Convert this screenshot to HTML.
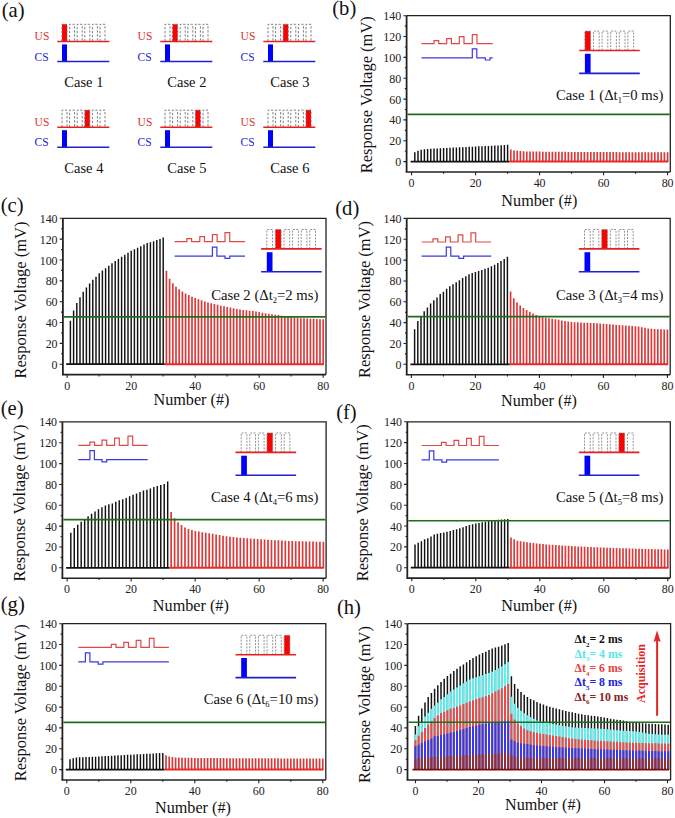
<!DOCTYPE html><html><head><meta charset="utf-8"><style>html,body{margin:0;padding:0;background:#fff;}svg{display:block;}</style></head><body><svg width="675" height="818" viewBox="0 0 675 818" font-family='"Liberation Serif", serif'>
<style>text{stroke-width:0.0px;stroke-linejoin:round}</style>
<rect width="675" height="818" fill="#fff"/>
<text x="1.65" y="16.9" font-size="20.6" fill="#111" stroke="#111">(a)</text>
<text x="332.25" y="15.2" font-size="20.6" fill="#111" stroke="#111">(b)</text>
<text x="0.75" y="211.6" font-size="20.6" fill="#111" stroke="#111">(c)</text>
<text x="335.25" y="214.9" font-size="20.6" fill="#111" stroke="#111">(d)</text>
<text x="0.75" y="414.6" font-size="20.6" fill="#111" stroke="#111">(e)</text>
<text x="336.15" y="418.7" font-size="20.6" fill="#111" stroke="#111">(f)</text>
<text x="0.75" y="611.4" font-size="20.6" fill="#111" stroke="#111">(g)</text>
<text x="336.95" y="614.3" font-size="20.6" fill="#111" stroke="#111">(h)</text>
<text x="34.60" y="39.80" font-size="11.5" fill="#e03030" stroke="#e03030">US</text>
<text x="34.60" y="60.60" font-size="11.5" fill="#2424d8" stroke="#2424d8">CS</text>
<rect x="62.00" y="24.30" width="5.00" height="17.10" fill="#f00"/>
<path d="M62.00 41.40V24.30H67.00V41.40M69.60 41.40V24.30H74.60V41.40M77.20 41.40V24.30H82.20V41.40M84.80 41.40V24.30H89.80V41.40M92.40 41.40V24.30H97.40V41.40M100.00 41.40V24.30H105.00V41.40" stroke="#6a6a6a" stroke-width="0.85" stroke-dasharray="2.4 1.6" fill="none"/>
<path d="M57.30 41.40H109.30" stroke="#e52222" stroke-width="1.5"/>
<rect x="62.00" y="44.40" width="5.00" height="17.00" fill="#00f"/>
<path d="M57.30 61.40H109.30" stroke="#2020d0" stroke-width="1.5"/>
<text x="83.90" y="87.30" text-anchor="middle" font-size="14.5" fill="#111" stroke="#111">Case 1</text>
<text x="137.60" y="39.80" font-size="11.5" fill="#e03030" stroke="#e03030">US</text>
<text x="137.60" y="60.60" font-size="11.5" fill="#2424d8" stroke="#2424d8">CS</text>
<rect x="172.60" y="24.30" width="5.00" height="17.10" fill="#f00"/>
<path d="M165.00 41.40V24.30H170.00V41.40M172.60 41.40V24.30H177.60V41.40M180.20 41.40V24.30H185.20V41.40M187.80 41.40V24.30H192.80V41.40M195.40 41.40V24.30H200.40V41.40M203.00 41.40V24.30H208.00V41.40" stroke="#6a6a6a" stroke-width="0.85" stroke-dasharray="2.4 1.6" fill="none"/>
<path d="M160.30 41.40H212.30" stroke="#e52222" stroke-width="1.5"/>
<rect x="165.00" y="44.40" width="5.00" height="17.00" fill="#00f"/>
<path d="M160.30 61.40H212.30" stroke="#2020d0" stroke-width="1.5"/>
<text x="186.90" y="87.30" text-anchor="middle" font-size="14.5" fill="#111" stroke="#111">Case 2</text>
<text x="240.60" y="39.80" font-size="11.5" fill="#e03030" stroke="#e03030">US</text>
<text x="240.60" y="60.60" font-size="11.5" fill="#2424d8" stroke="#2424d8">CS</text>
<rect x="283.20" y="24.30" width="5.00" height="17.10" fill="#f00"/>
<path d="M268.00 41.40V24.30H273.00V41.40M275.60 41.40V24.30H280.60V41.40M283.20 41.40V24.30H288.20V41.40M290.80 41.40V24.30H295.80V41.40M298.40 41.40V24.30H303.40V41.40M306.00 41.40V24.30H311.00V41.40" stroke="#6a6a6a" stroke-width="0.85" stroke-dasharray="2.4 1.6" fill="none"/>
<path d="M263.30 41.40H315.30" stroke="#e52222" stroke-width="1.5"/>
<rect x="268.00" y="44.40" width="5.00" height="17.00" fill="#00f"/>
<path d="M263.30 61.40H315.30" stroke="#2020d0" stroke-width="1.5"/>
<text x="289.90" y="87.30" text-anchor="middle" font-size="14.5" fill="#111" stroke="#111">Case 3</text>
<text x="34.60" y="125.60" font-size="11.5" fill="#e03030" stroke="#e03030">US</text>
<text x="34.60" y="146.40" font-size="11.5" fill="#2424d8" stroke="#2424d8">CS</text>
<rect x="84.80" y="110.10" width="5.00" height="17.10" fill="#f00"/>
<path d="M62.00 127.20V110.10H67.00V127.20M69.60 127.20V110.10H74.60V127.20M77.20 127.20V110.10H82.20V127.20M84.80 127.20V110.10H89.80V127.20M92.40 127.20V110.10H97.40V127.20M100.00 127.20V110.10H105.00V127.20" stroke="#6a6a6a" stroke-width="0.85" stroke-dasharray="2.4 1.6" fill="none"/>
<path d="M57.30 127.20H109.30" stroke="#e52222" stroke-width="1.5"/>
<rect x="62.00" y="130.20" width="5.00" height="17.00" fill="#00f"/>
<path d="M57.30 147.20H109.30" stroke="#2020d0" stroke-width="1.5"/>
<text x="83.90" y="173.10" text-anchor="middle" font-size="14.5" fill="#111" stroke="#111">Case 4</text>
<text x="137.60" y="125.60" font-size="11.5" fill="#e03030" stroke="#e03030">US</text>
<text x="137.60" y="146.40" font-size="11.5" fill="#2424d8" stroke="#2424d8">CS</text>
<rect x="195.40" y="110.10" width="5.00" height="17.10" fill="#f00"/>
<path d="M165.00 127.20V110.10H170.00V127.20M172.60 127.20V110.10H177.60V127.20M180.20 127.20V110.10H185.20V127.20M187.80 127.20V110.10H192.80V127.20M195.40 127.20V110.10H200.40V127.20M203.00 127.20V110.10H208.00V127.20" stroke="#6a6a6a" stroke-width="0.85" stroke-dasharray="2.4 1.6" fill="none"/>
<path d="M160.30 127.20H212.30" stroke="#e52222" stroke-width="1.5"/>
<rect x="165.00" y="130.20" width="5.00" height="17.00" fill="#00f"/>
<path d="M160.30 147.20H212.30" stroke="#2020d0" stroke-width="1.5"/>
<text x="186.90" y="173.10" text-anchor="middle" font-size="14.5" fill="#111" stroke="#111">Case 5</text>
<text x="240.60" y="125.60" font-size="11.5" fill="#e03030" stroke="#e03030">US</text>
<text x="240.60" y="146.40" font-size="11.5" fill="#2424d8" stroke="#2424d8">CS</text>
<rect x="306.00" y="110.10" width="5.00" height="17.10" fill="#f00"/>
<path d="M268.00 127.20V110.10H273.00V127.20M275.60 127.20V110.10H280.60V127.20M283.20 127.20V110.10H288.20V127.20M290.80 127.20V110.10H295.80V127.20M298.40 127.20V110.10H303.40V127.20M306.00 127.20V110.10H311.00V127.20" stroke="#6a6a6a" stroke-width="0.85" stroke-dasharray="2.4 1.6" fill="none"/>
<path d="M263.30 127.20H315.30" stroke="#e52222" stroke-width="1.5"/>
<rect x="268.00" y="130.20" width="5.00" height="17.00" fill="#00f"/>
<path d="M263.30 147.20H315.30" stroke="#2020d0" stroke-width="1.5"/>
<text x="289.90" y="173.10" text-anchor="middle" font-size="14.5" fill="#111" stroke="#111">Case 6</text>
<path d="M406.6 15.72H670.3V172.02" fill="none" stroke="#222" stroke-width="1.3"/>
<path d="M406.6 15.72V172.02" fill="none" stroke="#222" stroke-width="1.8"/>
<path d="M405.70000000000005 172.02H670.3" fill="none" stroke="#222" stroke-width="1.6"/>
<path d="M403.40 161.60H406.6M404.80 151.18H406.6M403.40 140.76H406.6M404.80 130.34H406.6M403.40 119.92H406.6M404.80 109.50H406.6M403.40 99.08H406.6M404.80 88.66H406.6M403.40 78.24H406.6M404.80 67.82H406.6M403.40 57.40H406.6M404.80 46.98H406.6M403.40 36.56H406.6M404.80 26.14H406.6M403.40 15.72H406.6M411.60 172.02V175.22M443.60 172.02V173.82M475.60 172.02V175.22M507.60 172.02V173.82M539.60 172.02V175.22M571.60 172.02V173.82M603.60 172.02V175.22M635.60 172.02V173.82M667.60 172.02V175.22" stroke="#222" stroke-width="1.1" fill="none"/>
<text transform="translate(401.30 166.10) scale(0.92 1)" text-anchor="end" font-size="13" fill="#222" stroke="#222">0</text>
<text transform="translate(401.30 145.26) scale(0.92 1)" text-anchor="end" font-size="13" fill="#222" stroke="#222">20</text>
<text transform="translate(401.30 124.42) scale(0.92 1)" text-anchor="end" font-size="13" fill="#222" stroke="#222">40</text>
<text transform="translate(401.30 103.58) scale(0.92 1)" text-anchor="end" font-size="13" fill="#222" stroke="#222">60</text>
<text transform="translate(401.30 82.74) scale(0.92 1)" text-anchor="end" font-size="13" fill="#222" stroke="#222">80</text>
<text transform="translate(401.30 61.90) scale(0.92 1)" text-anchor="end" font-size="13" fill="#222" stroke="#222">100</text>
<text transform="translate(401.30 41.06) scale(0.92 1)" text-anchor="end" font-size="13" fill="#222" stroke="#222">120</text>
<text transform="translate(401.30 20.22) scale(0.92 1)" text-anchor="end" font-size="13" fill="#222" stroke="#222">140</text>
<text transform="translate(411.60 186.92) scale(0.92 1)" text-anchor="middle" font-size="13" fill="#222" stroke="#222">0</text>
<text transform="translate(475.60 186.92) scale(0.92 1)" text-anchor="middle" font-size="13" fill="#222" stroke="#222">20</text>
<text transform="translate(539.60 186.92) scale(0.92 1)" text-anchor="middle" font-size="13" fill="#222" stroke="#222">40</text>
<text transform="translate(603.60 186.92) scale(0.92 1)" text-anchor="middle" font-size="13" fill="#222" stroke="#222">60</text>
<text transform="translate(667.60 186.92) scale(0.92 1)" text-anchor="middle" font-size="13" fill="#222" stroke="#222">80</text>
<text x="539.35" y="205.70" text-anchor="middle" font-size="16.2" fill="#111" stroke="#111">Number (#)</text>
<text transform="translate(372.20 94.70) rotate(-90)" text-anchor="middle" font-size="16.5" fill="#111" stroke="#111">Response Voltage (mV)</text>
<path d="M510.80 161.60V149.62M514.00 161.60V150.45M517.20 161.60V150.87M520.40 161.60V151.10M523.60 161.60V151.28M526.80 161.60V151.39M530.00 161.60V151.46M533.20 161.60V151.52M536.40 161.60V151.57M539.60 161.60V151.62M542.80 161.60V151.67M546.00 161.60V151.71M549.20 161.60V151.74M552.40 161.60V151.77M555.60 161.60V151.80M558.80 161.60V151.83M562.00 161.60V151.85M565.20 161.60V151.87M568.40 161.60V151.89M571.60 161.60V151.91M574.80 161.60V151.93M578.00 161.60V151.94M581.20 161.60V151.96M584.40 161.60V151.98M587.60 161.60V151.99M590.80 161.60V152.01M594.00 161.60V152.02M597.20 161.60V152.04M600.40 161.60V152.05M603.60 161.60V152.07M606.80 161.60V152.08M610.00 161.60V152.09M613.20 161.60V152.11M616.40 161.60V152.12M619.60 161.60V152.13M622.80 161.60V152.14M626.00 161.60V152.15M629.20 161.60V152.16M632.40 161.60V152.17M635.60 161.60V152.18M638.80 161.60V152.19M642.00 161.60V152.19M645.20 161.60V152.20M648.40 161.60V152.21M651.60 161.60V152.21M654.80 161.60V152.21M658.00 161.60V152.22M661.20 161.60V152.22M664.40 161.60V152.22M667.60 161.60V152.22" stroke="#dc3a3a" stroke-width="1.7" fill="none"/>
<path d="M414.80 161.60V152.22M418.00 161.60V150.87M421.20 161.60V149.83M424.40 161.60V149.30M427.60 161.60V149.01M430.80 161.60V148.78M434.00 161.60V148.58M437.20 161.60V148.39M440.40 161.60V148.22M443.60 161.60V148.05M446.80 161.60V147.90M450.00 161.60V147.75M453.20 161.60V147.62M456.40 161.60V147.47M459.60 161.60V147.32M462.80 161.60V147.16M466.00 161.60V146.99M469.20 161.60V146.82M472.40 161.60V146.65M475.60 161.60V146.49M478.80 161.60V146.34M482.00 161.60V146.20M485.20 161.60V146.07M488.40 161.60V145.92M491.60 161.60V145.76M494.80 161.60V145.58M498.00 161.60V145.39M501.20 161.60V145.18M504.40 161.60V144.95M507.60 161.60V144.72" stroke="#111" stroke-width="1.45" fill="none"/>
<path d="M410.60 161.60H509.20" stroke="#111" stroke-width="1.8"/>
<path d="M509.20 161.60H668.30" stroke="#e52b2b" stroke-width="2"/>
<path d="M407.6 114.40H669.6999999999999" stroke="#1e6e1e" stroke-width="1.6"/>
<path d="M421.50 43.70H434.00V40.60H438.70V43.70H446.70V38.60H451.40V43.70H459.30V36.60H464.00V43.70H472.30V34.60H477.00V43.70H492.70" stroke="#e04848" stroke-width="1.2" fill="none"/>
<path d="M421.50 57.80H472.30V48.80H476.80V57.80H485.30V60.00H490.00V57.80H492.70" stroke="#3a3ae0" stroke-width="1.2" fill="none"/>
<rect x="584.90" y="31.10" width="5.70" height="19.40" fill="#f00"/>
<path d="M584.90 50.50V31.10H590.60V50.50M593.50 50.50V31.10H599.20V50.50M602.10 50.50V31.10H607.80V50.50M610.70 50.50V31.10H616.40V50.50M619.30 50.50V31.10H625.00V50.50M627.90 50.50V31.10H633.60V50.50" stroke="#808080" stroke-width="0.85" stroke-dasharray="2 1.3" fill="none"/>
<path d="M579.20 50.50H639.80" stroke="#e52222" stroke-width="1.6"/>
<rect x="584.90" y="53.80" width="5.70" height="19.60" fill="#00f"/>
<path d="M579.20 73.40H639.80" stroke="#2020d0" stroke-width="1.6"/>
<text x="663.30" y="99.50" text-anchor="end" font-size="14.7" fill="#111" stroke="#111">Case 1 (Δt<tspan font-size="8.5" dy="3">1</tspan><tspan dy="-3">=0 ms)</tspan></text>
<path d="M62.9 218.32H326.0V374.62" fill="none" stroke="#222" stroke-width="1.3"/>
<path d="M62.9 218.32V374.62" fill="none" stroke="#222" stroke-width="1.8"/>
<path d="M62.0 374.62H326.0" fill="none" stroke="#222" stroke-width="1.6"/>
<path d="M59.70 364.20H62.9M61.10 353.78H62.9M59.70 343.36H62.9M61.10 332.94H62.9M59.70 322.52H62.9M61.10 312.10H62.9M59.70 301.68H62.9M61.10 291.26H62.9M59.70 280.84H62.9M61.10 270.42H62.9M59.70 260.00H62.9M61.10 249.58H62.9M59.70 239.16H62.9M61.10 228.74H62.9M59.70 218.32H62.9M67.20 374.62V377.82M99.20 374.62V376.42M131.20 374.62V377.82M163.20 374.62V376.42M195.20 374.62V377.82M227.20 374.62V376.42M259.20 374.62V377.82M291.20 374.62V376.42M323.20 374.62V377.82" stroke="#222" stroke-width="1.1" fill="none"/>
<text transform="translate(57.60 368.70) scale(0.92 1)" text-anchor="end" font-size="13" fill="#222" stroke="#222">0</text>
<text transform="translate(57.60 347.86) scale(0.92 1)" text-anchor="end" font-size="13" fill="#222" stroke="#222">20</text>
<text transform="translate(57.60 327.02) scale(0.92 1)" text-anchor="end" font-size="13" fill="#222" stroke="#222">40</text>
<text transform="translate(57.60 306.18) scale(0.92 1)" text-anchor="end" font-size="13" fill="#222" stroke="#222">60</text>
<text transform="translate(57.60 285.34) scale(0.92 1)" text-anchor="end" font-size="13" fill="#222" stroke="#222">80</text>
<text transform="translate(57.60 264.50) scale(0.92 1)" text-anchor="end" font-size="13" fill="#222" stroke="#222">100</text>
<text transform="translate(57.60 243.66) scale(0.92 1)" text-anchor="end" font-size="13" fill="#222" stroke="#222">120</text>
<text transform="translate(57.60 222.82) scale(0.92 1)" text-anchor="end" font-size="13" fill="#222" stroke="#222">140</text>
<text transform="translate(67.20 389.52) scale(0.92 1)" text-anchor="middle" font-size="13" fill="#222" stroke="#222">0</text>
<text transform="translate(131.20 389.52) scale(0.92 1)" text-anchor="middle" font-size="13" fill="#222" stroke="#222">20</text>
<text transform="translate(195.20 389.52) scale(0.92 1)" text-anchor="middle" font-size="13" fill="#222" stroke="#222">40</text>
<text transform="translate(259.20 389.52) scale(0.92 1)" text-anchor="middle" font-size="13" fill="#222" stroke="#222">60</text>
<text transform="translate(323.20 389.52) scale(0.92 1)" text-anchor="middle" font-size="13" fill="#222" stroke="#222">80</text>
<text x="191.45" y="405.40" text-anchor="middle" font-size="16.2" fill="#111" stroke="#111">Number (#)</text>
<text transform="translate(26.30 300.00) rotate(-90)" text-anchor="middle" font-size="16.5" fill="#111" stroke="#111">Response Voltage (mV)</text>
<path d="M166.40 364.20V270.73M169.60 364.20V278.65M172.80 364.20V283.34M176.00 364.20V286.68M179.20 364.20V289.28M182.40 364.20V291.57M185.60 364.20V293.55M188.80 364.20V294.91M192.00 364.20V296.68M195.20 364.20V298.03M198.40 364.20V299.22M201.60 364.20V300.33M204.80 364.20V301.42M208.00 364.20V302.41M211.20 364.20V303.21M214.40 364.20V303.97M217.60 364.20V304.83M220.80 364.20V305.64M224.00 364.20V306.28M227.20 364.20V306.89M230.40 364.20V307.57M233.60 364.20V308.24M236.80 364.20V308.91M240.00 364.20V309.50M243.20 364.20V309.94M246.40 364.20V310.33M249.60 364.20V310.69M252.80 364.20V311.06M256.00 364.20V311.49M259.20 364.20V312.00M262.40 364.20V312.67M265.60 364.20V313.35M268.80 364.20V313.85M272.00 364.20V314.29M275.20 364.20V314.69M278.40 364.20V315.12M281.60 364.20V315.80M284.80 364.20V316.48M288.00 364.20V316.93M291.20 364.20V317.31M294.40 364.20V317.66M297.60 364.20V317.94M300.80 364.20V318.13M304.00 364.20V318.30M307.20 364.20V318.46M310.40 364.20V318.63M313.60 364.20V318.79M316.80 364.20V318.96M320.00 364.20V319.13M323.20 364.20V319.29" stroke="#dc3a3a" stroke-width="1.7" fill="none"/>
<path d="M70.40 364.20V320.67M73.60 364.20V310.40M76.80 364.20V303.07M80.00 364.20V297.20M83.20 364.20V291.70M86.40 364.20V287.48M89.60 364.20V283.45M92.80 364.20V279.78M96.00 364.20V276.67M99.20 364.20V273.37M102.40 364.20V270.62M105.60 364.20V268.23M108.80 364.20V265.67M112.00 364.20V263.28M115.20 364.20V260.90M118.40 364.20V259.07M121.60 364.20V256.87M124.80 364.20V254.67M128.00 364.20V252.65M131.20 364.20V250.82M134.40 364.20V249.17M137.60 364.20V247.70M140.80 364.20V246.23M144.00 364.20V244.58M147.20 364.20V243.12M150.40 364.20V242.20M153.60 364.20V241.28M156.80 364.20V240.00M160.00 364.20V238.90M163.20 364.20V237.62" stroke="#111" stroke-width="1.45" fill="none"/>
<path d="M66.20 364.20H164.80" stroke="#111" stroke-width="1.8"/>
<path d="M164.80 364.20H323.90" stroke="#e52b2b" stroke-width="2"/>
<path d="M63.9 316.89H325.4" stroke="#1e6e1e" stroke-width="1.6"/>
<path d="M174.60 241.70H186.90V238.60H191.60V241.70H199.80V236.60H204.50V241.70H212.40V234.60H217.10V241.70H225.00V232.60H229.70V241.70H245.00" stroke="#e04848" stroke-width="1.2" fill="none"/>
<path d="M174.60 256.10H212.40V247.10H216.90V256.10H225.00V258.30H229.70V256.10H245.00" stroke="#3a3ae0" stroke-width="1.2" fill="none"/>
<rect x="275.40" y="229.50" width="5.70" height="19.40" fill="#f00"/>
<path d="M266.80 248.90V229.50H272.50V248.90M275.40 248.90V229.50H281.10V248.90M284.00 248.90V229.50H289.70V248.90M292.60 248.90V229.50H298.30V248.90M301.20 248.90V229.50H306.90V248.90M309.80 248.90V229.50H315.50V248.90" stroke="#808080" stroke-width="0.85" stroke-dasharray="2 1.3" fill="none"/>
<path d="M261.10 248.90H321.70" stroke="#e52222" stroke-width="1.6"/>
<rect x="266.80" y="252.20" width="5.70" height="19.60" fill="#00f"/>
<path d="M261.10 271.80H321.70" stroke="#2020d0" stroke-width="1.6"/>
<text x="318.40" y="300.30" text-anchor="end" font-size="14.7" fill="#111" stroke="#111">Case 2 (Δt<tspan font-size="8.5" dy="3">2</tspan><tspan dy="-3">=2 ms)</tspan></text>
<path d="M406.7 218.42H670.2V374.72" fill="none" stroke="#222" stroke-width="1.3"/>
<path d="M406.7 218.42V374.72" fill="none" stroke="#222" stroke-width="1.8"/>
<path d="M405.8 374.72H670.2" fill="none" stroke="#222" stroke-width="1.6"/>
<path d="M403.50 364.30H406.7M404.90 353.88H406.7M403.50 343.46H406.7M404.90 333.04H406.7M403.50 322.62H406.7M404.90 312.20H406.7M403.50 301.78H406.7M404.90 291.36H406.7M403.50 280.94H406.7M404.90 270.52H406.7M403.50 260.10H406.7M404.90 249.68H406.7M403.50 239.26H406.7M404.90 228.84H406.7M403.50 218.42H406.7M411.40 374.72V377.92M443.40 374.72V376.52M475.40 374.72V377.92M507.40 374.72V376.52M539.40 374.72V377.92M571.40 374.72V376.52M603.40 374.72V377.92M635.40 374.72V376.52M667.40 374.72V377.92" stroke="#222" stroke-width="1.1" fill="none"/>
<text transform="translate(401.40 368.80) scale(0.92 1)" text-anchor="end" font-size="13" fill="#222" stroke="#222">0</text>
<text transform="translate(401.40 347.96) scale(0.92 1)" text-anchor="end" font-size="13" fill="#222" stroke="#222">20</text>
<text transform="translate(401.40 327.12) scale(0.92 1)" text-anchor="end" font-size="13" fill="#222" stroke="#222">40</text>
<text transform="translate(401.40 306.28) scale(0.92 1)" text-anchor="end" font-size="13" fill="#222" stroke="#222">60</text>
<text transform="translate(401.40 285.44) scale(0.92 1)" text-anchor="end" font-size="13" fill="#222" stroke="#222">80</text>
<text transform="translate(401.40 264.60) scale(0.92 1)" text-anchor="end" font-size="13" fill="#222" stroke="#222">100</text>
<text transform="translate(401.40 243.76) scale(0.92 1)" text-anchor="end" font-size="13" fill="#222" stroke="#222">120</text>
<text transform="translate(401.40 222.92) scale(0.92 1)" text-anchor="end" font-size="13" fill="#222" stroke="#222">140</text>
<text transform="translate(411.40 389.62) scale(0.92 1)" text-anchor="middle" font-size="13" fill="#222" stroke="#222">0</text>
<text transform="translate(475.40 389.62) scale(0.92 1)" text-anchor="middle" font-size="13" fill="#222" stroke="#222">20</text>
<text transform="translate(539.40 389.62) scale(0.92 1)" text-anchor="middle" font-size="13" fill="#222" stroke="#222">40</text>
<text transform="translate(603.40 389.62) scale(0.92 1)" text-anchor="middle" font-size="13" fill="#222" stroke="#222">60</text>
<text transform="translate(667.40 389.62) scale(0.92 1)" text-anchor="middle" font-size="13" fill="#222" stroke="#222">80</text>
<text x="538.95" y="405.70" text-anchor="middle" font-size="16.2" fill="#111" stroke="#111">Number (#)</text>
<text transform="translate(369.60 299.45) rotate(-90)" text-anchor="middle" font-size="16.5" fill="#111" stroke="#111">Response Voltage (mV)</text>
<path d="M510.60 364.30V291.57M513.80 364.30V298.34M517.00 364.30V302.41M520.20 364.30V305.53M523.40 364.30V308.03M526.60 364.30V310.01M529.80 364.30V311.78M533.00 364.30V313.55M536.20 364.30V315.12M539.40 364.30V316.37M542.60 364.30V317.14M545.80 364.30V317.75M549.00 364.30V318.28M552.20 364.30V318.77M555.40 364.30V319.29M558.60 364.30V319.86M561.80 364.30V320.46M565.00 364.30V321.04M568.20 364.30V321.53M571.40 364.30V321.89M574.60 364.30V322.15M577.80 364.30V322.36M581.00 364.30V322.54M584.20 364.30V322.70M587.40 364.30V322.84M590.60 364.30V322.98M593.80 364.30V323.12M597.00 364.30V323.28M600.20 364.30V323.45M603.40 364.30V323.66M606.60 364.30V323.92M609.80 364.30V324.22M613.00 364.30V324.54M616.20 364.30V324.85M619.40 364.30V325.12M622.60 364.30V325.34M625.80 364.30V325.52M629.00 364.30V325.70M632.20 364.30V325.90M635.40 364.30V326.16M638.60 364.30V326.59M641.80 364.30V327.18M645.00 364.30V327.83M648.20 364.30V328.40M651.40 364.30V328.77M654.60 364.30V328.99M657.80 364.30V329.19M661.00 364.30V329.35M664.20 364.30V329.46M667.40 364.30V329.50" stroke="#dc3a3a" stroke-width="1.7" fill="none"/>
<path d="M414.60 364.30V329.18M417.80 364.30V321.06M421.00 364.30V316.89M424.20 364.30V311.16M427.40 364.30V307.51M430.60 364.30V303.55M433.80 364.30V300.32M437.00 364.30V297.40M440.20 364.30V294.07M443.40 364.30V291.67M446.60 364.30V288.86M449.80 364.30V286.25M453.00 364.30V284.27M456.20 364.30V282.19M459.40 364.30V280.21M462.60 364.30V278.02M465.80 364.30V276.15M469.00 364.30V274.17M472.20 364.30V272.99M475.40 364.30V271.98M478.60 364.30V270.91M481.80 364.30V269.88M485.00 364.30V268.82M488.20 364.30V267.67M491.40 364.30V266.35M494.60 364.30V264.82M497.80 364.30V263.07M501.00 364.30V261.12M504.20 364.30V259.02M507.40 364.30V256.77" stroke="#111" stroke-width="1.45" fill="none"/>
<path d="M410.40 364.30H509.00" stroke="#111" stroke-width="1.8"/>
<path d="M509.00 364.30H668.10" stroke="#e52b2b" stroke-width="2"/>
<path d="M407.7 316.58H669.6" stroke="#1e6e1e" stroke-width="1.6"/>
<path d="M421.60 242.00H433.00V238.90H437.70V242.00H445.60V236.90H450.30V242.00H458.10V234.90H462.80V242.00H471.00V232.90H475.70V242.00H491.20" stroke="#e04848" stroke-width="1.2" fill="none"/>
<path d="M421.60 256.10H446.30V247.10H450.80V256.10H458.90V258.30H463.60V256.10H491.20" stroke="#3a3ae0" stroke-width="1.2" fill="none"/>
<rect x="601.70" y="229.50" width="5.70" height="19.40" fill="#f00"/>
<path d="M584.50 248.90V229.50H590.20V248.90M593.10 248.90V229.50H598.80V248.90M601.70 248.90V229.50H607.40V248.90M610.30 248.90V229.50H616.00V248.90M618.90 248.90V229.50H624.60V248.90M627.50 248.90V229.50H633.20V248.90" stroke="#808080" stroke-width="0.85" stroke-dasharray="2 1.3" fill="none"/>
<path d="M578.80 248.90H639.40" stroke="#e52222" stroke-width="1.6"/>
<rect x="584.50" y="252.20" width="5.70" height="19.60" fill="#00f"/>
<path d="M578.80 271.80H639.40" stroke="#2020d0" stroke-width="1.6"/>
<text x="663.30" y="300.20" text-anchor="end" font-size="14.7" fill="#111" stroke="#111">Case 3 (Δt<tspan font-size="8.5" dy="3">3</tspan><tspan dy="-3">=4 ms)</tspan></text>
<path d="M62.4 421.92H326.1V578.22" fill="none" stroke="#222" stroke-width="1.3"/>
<path d="M62.4 421.92V578.22" fill="none" stroke="#222" stroke-width="1.8"/>
<path d="M61.5 578.22H326.1" fill="none" stroke="#222" stroke-width="1.6"/>
<path d="M59.20 567.80H62.4M60.60 557.38H62.4M59.20 546.96H62.4M60.60 536.54H62.4M59.20 526.12H62.4M60.60 515.70H62.4M59.20 505.28H62.4M60.60 494.86H62.4M59.20 484.44H62.4M60.60 474.02H62.4M59.20 463.60H62.4M60.60 453.18H62.4M59.20 442.76H62.4M60.60 432.34H62.4M59.20 421.92H62.4M67.10 578.22V581.42M99.10 578.22V580.02M131.10 578.22V581.42M163.10 578.22V580.02M195.10 578.22V581.42M227.10 578.22V580.02M259.10 578.22V581.42M291.10 578.22V580.02M323.10 578.22V581.42" stroke="#222" stroke-width="1.1" fill="none"/>
<text transform="translate(57.10 572.30) scale(0.92 1)" text-anchor="end" font-size="13" fill="#222" stroke="#222">0</text>
<text transform="translate(57.10 551.46) scale(0.92 1)" text-anchor="end" font-size="13" fill="#222" stroke="#222">20</text>
<text transform="translate(57.10 530.62) scale(0.92 1)" text-anchor="end" font-size="13" fill="#222" stroke="#222">40</text>
<text transform="translate(57.10 509.78) scale(0.92 1)" text-anchor="end" font-size="13" fill="#222" stroke="#222">60</text>
<text transform="translate(57.10 488.94) scale(0.92 1)" text-anchor="end" font-size="13" fill="#222" stroke="#222">80</text>
<text transform="translate(57.10 468.10) scale(0.92 1)" text-anchor="end" font-size="13" fill="#222" stroke="#222">100</text>
<text transform="translate(57.10 447.26) scale(0.92 1)" text-anchor="end" font-size="13" fill="#222" stroke="#222">120</text>
<text transform="translate(57.10 426.42) scale(0.92 1)" text-anchor="end" font-size="13" fill="#222" stroke="#222">140</text>
<text transform="translate(67.10 593.12) scale(0.92 1)" text-anchor="middle" font-size="13" fill="#222" stroke="#222">0</text>
<text transform="translate(131.10 593.12) scale(0.92 1)" text-anchor="middle" font-size="13" fill="#222" stroke="#222">20</text>
<text transform="translate(195.10 593.12) scale(0.92 1)" text-anchor="middle" font-size="13" fill="#222" stroke="#222">40</text>
<text transform="translate(259.10 593.12) scale(0.92 1)" text-anchor="middle" font-size="13" fill="#222" stroke="#222">60</text>
<text transform="translate(323.10 593.12) scale(0.92 1)" text-anchor="middle" font-size="13" fill="#222" stroke="#222">80</text>
<text x="190.85" y="611.00" text-anchor="middle" font-size="16.2" fill="#111" stroke="#111">Number (#)</text>
<text transform="translate(25.20 503.00) rotate(-90)" text-anchor="middle" font-size="16.5" fill="#111" stroke="#111">Response Voltage (mV)</text>
<path d="M171.14 567.80V511.95M174.60 567.80V518.30M178.06 567.80V522.28M181.52 567.80V525.03M184.98 567.80V527.55M188.44 567.80V529.05M191.90 567.80V530.07M195.36 567.80V530.88M198.82 567.80V531.59M202.28 567.80V532.23M205.74 567.80V532.79M209.20 567.80V533.31M212.66 567.80V533.83M216.12 567.80V534.39M219.58 567.80V535.02M223.04 567.80V535.66M226.50 567.80V536.25M229.96 567.80V536.72M233.42 567.80V537.10M236.88 567.80V537.44M240.34 567.80V537.75M243.80 567.80V538.03M247.26 567.80V538.30M250.72 567.80V538.54M254.18 567.80V538.78M257.64 567.80V539.01M261.10 567.80V539.24M264.56 567.80V539.47M268.02 567.80V539.70M271.48 567.80V539.93M274.94 567.80V540.15M278.40 567.80V540.36M281.86 567.80V540.56M285.32 567.80V540.73M288.78 567.80V540.89M292.24 567.80V541.02M295.70 567.80V541.13M299.16 567.80V541.24M302.62 567.80V541.35M306.08 567.80V541.44M309.54 567.80V541.53M313.00 567.80V541.61M316.46 567.80V541.67M319.92 567.80V541.72M323.38 567.80V541.75" stroke="#dc3a3a" stroke-width="1.7" fill="none"/>
<path d="M70.80 567.80V532.68M74.26 567.80V528.07M77.72 567.80V524.75M81.18 567.80V521.78M84.64 567.80V519.28M88.10 567.80V516.36M91.56 567.80V513.73M95.02 567.80V511.39M98.48 567.80V509.20M101.94 567.80V507.27M105.40 567.80V505.40M108.86 567.80V504.33M112.32 567.80V503.46M115.78 567.80V501.84M119.24 567.80V500.27M122.70 567.80V499.16M126.16 567.80V497.99M129.62 567.80V496.22M133.08 567.80V494.70M136.54 567.80V493.40M140.00 567.80V491.93M143.46 567.80V490.55M146.92 567.80V489.64M150.38 567.80V488.42M153.84 567.80V487.11M157.30 567.80V485.91M160.76 567.80V484.92M164.22 567.80V484.07M167.68 567.80V481.52" stroke="#111" stroke-width="1.45" fill="none"/>
<path d="M66.10 567.80H169.41" stroke="#111" stroke-width="1.8"/>
<path d="M169.41 567.80H324.08" stroke="#e52b2b" stroke-width="2"/>
<path d="M63.4 519.66H325.5" stroke="#1e6e1e" stroke-width="1.6"/>
<path d="M78.30 445.30H89.90V442.20H94.60V445.30H102.00V440.20H106.70V445.30H114.60V438.20H119.30V445.30H128.00V436.20H132.70V445.30H147.70" stroke="#e04848" stroke-width="1.2" fill="none"/>
<path d="M78.30 459.60H89.90V450.60H94.40V459.60H102.00V461.80H106.70V459.60H147.70" stroke="#3a3ae0" stroke-width="1.2" fill="none"/>
<rect x="267.00" y="433.00" width="5.70" height="19.40" fill="#f00"/>
<path d="M241.20 452.40V433.00H246.90V452.40M249.80 452.40V433.00H255.50V452.40M258.40 452.40V433.00H264.10V452.40M267.00 452.40V433.00H272.70V452.40M275.60 452.40V433.00H281.30V452.40M284.20 452.40V433.00H289.90V452.40" stroke="#808080" stroke-width="0.85" stroke-dasharray="2 1.3" fill="none"/>
<path d="M235.50 452.40H296.10" stroke="#e52222" stroke-width="1.6"/>
<rect x="241.20" y="455.70" width="5.70" height="19.60" fill="#00f"/>
<path d="M235.50 475.30H296.10" stroke="#2020d0" stroke-width="1.6"/>
<text x="318.30" y="502.00" text-anchor="end" font-size="14.7" fill="#111" stroke="#111">Case 4 (Δt<tspan font-size="8.5" dy="3">4</tspan><tspan dy="-3">=6 ms)</tspan></text>
<path d="M407.3 421.82H670.3V578.12" fill="none" stroke="#222" stroke-width="1.3"/>
<path d="M407.3 421.82V578.12" fill="none" stroke="#222" stroke-width="1.8"/>
<path d="M406.40000000000003 578.12H670.3" fill="none" stroke="#222" stroke-width="1.6"/>
<path d="M404.10 567.70H407.3M405.50 557.28H407.3M404.10 546.86H407.3M405.50 536.44H407.3M404.10 526.02H407.3M405.50 515.60H407.3M404.10 505.18H407.3M405.50 494.76H407.3M404.10 484.34H407.3M405.50 473.92H407.3M404.10 463.50H407.3M405.50 453.08H407.3M404.10 442.66H407.3M405.50 432.24H407.3M404.10 421.82H407.3M411.80 578.12V581.32M443.80 578.12V579.92M475.80 578.12V581.32M507.80 578.12V579.92M539.80 578.12V581.32M571.80 578.12V579.92M603.80 578.12V581.32M635.80 578.12V579.92M667.80 578.12V581.32" stroke="#222" stroke-width="1.1" fill="none"/>
<text transform="translate(402.00 572.20) scale(0.92 1)" text-anchor="end" font-size="13" fill="#222" stroke="#222">0</text>
<text transform="translate(402.00 551.36) scale(0.92 1)" text-anchor="end" font-size="13" fill="#222" stroke="#222">20</text>
<text transform="translate(402.00 530.52) scale(0.92 1)" text-anchor="end" font-size="13" fill="#222" stroke="#222">40</text>
<text transform="translate(402.00 509.68) scale(0.92 1)" text-anchor="end" font-size="13" fill="#222" stroke="#222">60</text>
<text transform="translate(402.00 488.84) scale(0.92 1)" text-anchor="end" font-size="13" fill="#222" stroke="#222">80</text>
<text transform="translate(402.00 468.00) scale(0.92 1)" text-anchor="end" font-size="13" fill="#222" stroke="#222">100</text>
<text transform="translate(402.00 447.16) scale(0.92 1)" text-anchor="end" font-size="13" fill="#222" stroke="#222">120</text>
<text transform="translate(402.00 426.32) scale(0.92 1)" text-anchor="end" font-size="13" fill="#222" stroke="#222">140</text>
<text transform="translate(411.80 593.02) scale(0.92 1)" text-anchor="middle" font-size="13" fill="#222" stroke="#222">0</text>
<text transform="translate(475.80 593.02) scale(0.92 1)" text-anchor="middle" font-size="13" fill="#222" stroke="#222">20</text>
<text transform="translate(539.80 593.02) scale(0.92 1)" text-anchor="middle" font-size="13" fill="#222" stroke="#222">40</text>
<text transform="translate(603.80 593.02) scale(0.92 1)" text-anchor="middle" font-size="13" fill="#222" stroke="#222">60</text>
<text transform="translate(667.80 593.02) scale(0.92 1)" text-anchor="middle" font-size="13" fill="#222" stroke="#222">80</text>
<text x="539.25" y="611.00" text-anchor="middle" font-size="16.2" fill="#111" stroke="#111">Number (#)</text>
<text transform="translate(368.10 502.85) rotate(-90)" text-anchor="middle" font-size="16.5" fill="#111" stroke="#111">Response Voltage (mV)</text>
<path d="M511.00 567.70V537.59M514.20 567.70V539.25M517.40 567.70V540.82M520.60 567.70V541.37M523.80 567.70V541.75M527.00 567.70V542.21M530.20 567.70V542.67M533.40 567.70V543.10M536.60 567.70V543.50M539.80 567.70V543.84M543.00 567.70V544.12M546.20 567.70V544.39M549.40 567.70V544.63M552.60 567.70V544.86M555.80 567.70V545.08M559.00 567.70V545.28M562.20 567.70V545.47M565.40 567.70V545.66M568.60 567.70V545.84M571.80 567.70V546.03M575.00 567.70V546.21M578.20 567.70V546.38M581.40 567.70V546.55M584.60 567.70V546.72M587.80 567.70V546.88M591.00 567.70V547.03M594.20 567.70V547.18M597.40 567.70V547.33M600.60 567.70V547.46M603.80 567.70V547.59M607.00 567.70V547.71M610.20 567.70V547.83M613.40 567.70V547.94M616.60 567.70V548.05M619.80 567.70V548.15M623.00 567.70V548.25M626.20 567.70V548.35M629.40 567.70V548.44M632.60 567.70V548.54M635.80 567.70V548.63M639.00 567.70V548.72M642.20 567.70V548.81M645.40 567.70V548.90M648.60 567.70V548.99M651.80 567.70V549.07M655.00 567.70V549.16M658.20 567.70V549.24M661.40 567.70V549.31M664.60 567.70V549.39M667.80 567.70V549.47" stroke="#dc3a3a" stroke-width="1.7" fill="none"/>
<path d="M415.00 567.70V544.46M418.20 567.70V542.80M421.40 567.70V541.13M424.60 567.70V539.25M427.80 567.70V538.21M431.00 567.70V536.54M434.20 567.70V534.46M437.40 567.70V533.84M440.60 567.70V533.12M443.80 567.70V532.38M447.00 567.70V531.66M450.20 567.70V530.92M453.40 567.70V530.07M456.60 567.70V529.16M459.80 567.70V528.21M463.00 567.70V527.16M466.20 567.70V526.05M469.40 567.70V525.08M472.60 567.70V524.31M475.80 567.70V523.62M479.00 567.70V522.92M482.20 567.70V522.24M485.40 567.70V521.64M488.60 567.70V521.13M491.80 567.70V520.67M495.00 567.70V520.25M498.20 567.70V519.87M501.40 567.70V519.52M504.60 567.70V519.21M507.80 567.70V518.93" stroke="#111" stroke-width="1.45" fill="none"/>
<path d="M410.80 567.70H509.40" stroke="#111" stroke-width="1.8"/>
<path d="M509.40 567.70H668.50" stroke="#e52b2b" stroke-width="2"/>
<path d="M408.3 520.71H669.6999999999999" stroke="#1e6e1e" stroke-width="1.6"/>
<path d="M421.60 445.50H441.40V442.40H446.10V445.50H454.00V440.40H458.70V445.50H466.60V438.40H471.30V445.50H479.30V436.40H484.00V445.50H498.90" stroke="#e04848" stroke-width="1.2" fill="none"/>
<path d="M421.60 459.90H429.30V450.90H433.80V459.90H441.90V462.10H446.60V459.90H498.90" stroke="#3a3ae0" stroke-width="1.2" fill="none"/>
<rect x="618.90" y="433.00" width="5.70" height="19.40" fill="#f00"/>
<path d="M584.50 452.40V433.00H590.20V452.40M593.10 452.40V433.00H598.80V452.40M601.70 452.40V433.00H607.40V452.40M610.30 452.40V433.00H616.00V452.40M618.90 452.40V433.00H624.60V452.40M627.50 452.40V433.00H633.20V452.40" stroke="#808080" stroke-width="0.85" stroke-dasharray="2 1.3" fill="none"/>
<path d="M578.80 452.40H639.40" stroke="#e52222" stroke-width="1.6"/>
<rect x="584.50" y="455.70" width="5.70" height="19.60" fill="#00f"/>
<path d="M578.80 475.30H639.40" stroke="#2020d0" stroke-width="1.6"/>
<text x="663.30" y="502.00" text-anchor="end" font-size="14.7" fill="#111" stroke="#111">Case 5 (Δt<tspan font-size="8.5" dy="3">5</tspan><tspan dy="-3">=8 ms)</tspan></text>
<path d="M62.4 623.72H325.8V780.02" fill="none" stroke="#222" stroke-width="1.3"/>
<path d="M62.4 623.72V780.02" fill="none" stroke="#222" stroke-width="1.8"/>
<path d="M61.5 780.02H325.8" fill="none" stroke="#222" stroke-width="1.6"/>
<path d="M59.20 769.60H62.4M60.60 759.18H62.4M59.20 748.76H62.4M60.60 738.34H62.4M59.20 727.92H62.4M60.60 717.50H62.4M59.20 707.08H62.4M60.60 696.66H62.4M59.20 686.24H62.4M60.60 675.82H62.4M59.20 665.40H62.4M60.60 654.98H62.4M59.20 644.56H62.4M60.60 634.14H62.4M59.20 623.72H62.4M66.80 780.02V783.22M98.80 780.02V781.82M130.80 780.02V783.22M162.80 780.02V781.82M194.80 780.02V783.22M226.80 780.02V781.82M258.80 780.02V783.22M290.80 780.02V781.82M322.80 780.02V783.22" stroke="#222" stroke-width="1.1" fill="none"/>
<text transform="translate(57.10 774.10) scale(0.92 1)" text-anchor="end" font-size="13" fill="#222" stroke="#222">0</text>
<text transform="translate(57.10 753.26) scale(0.92 1)" text-anchor="end" font-size="13" fill="#222" stroke="#222">20</text>
<text transform="translate(57.10 732.42) scale(0.92 1)" text-anchor="end" font-size="13" fill="#222" stroke="#222">40</text>
<text transform="translate(57.10 711.58) scale(0.92 1)" text-anchor="end" font-size="13" fill="#222" stroke="#222">60</text>
<text transform="translate(57.10 690.74) scale(0.92 1)" text-anchor="end" font-size="13" fill="#222" stroke="#222">80</text>
<text transform="translate(57.10 669.90) scale(0.92 1)" text-anchor="end" font-size="13" fill="#222" stroke="#222">100</text>
<text transform="translate(57.10 649.06) scale(0.92 1)" text-anchor="end" font-size="13" fill="#222" stroke="#222">120</text>
<text transform="translate(57.10 628.22) scale(0.92 1)" text-anchor="end" font-size="13" fill="#222" stroke="#222">140</text>
<text transform="translate(66.80 794.92) scale(0.92 1)" text-anchor="middle" font-size="13" fill="#222" stroke="#222">0</text>
<text transform="translate(130.80 794.92) scale(0.92 1)" text-anchor="middle" font-size="13" fill="#222" stroke="#222">20</text>
<text transform="translate(194.80 794.92) scale(0.92 1)" text-anchor="middle" font-size="13" fill="#222" stroke="#222">40</text>
<text transform="translate(258.80 794.92) scale(0.92 1)" text-anchor="middle" font-size="13" fill="#222" stroke="#222">60</text>
<text transform="translate(322.80 794.92) scale(0.92 1)" text-anchor="middle" font-size="13" fill="#222" stroke="#222">80</text>
<text x="192.95" y="813.00" text-anchor="middle" font-size="16.2" fill="#111" stroke="#111">Number (#)</text>
<text transform="translate(26.30 702.75) rotate(-90)" text-anchor="middle" font-size="16.5" fill="#111" stroke="#111">Response Voltage (mV)</text>
<path d="M166.00 769.60V755.32M169.20 769.60V756.47M172.40 769.60V757.10M175.60 769.60V757.43M178.80 769.60V757.62M182.00 769.60V757.69M185.20 769.60V757.75M188.40 769.60V757.81M191.60 769.60V757.86M194.80 769.60V757.90M198.00 769.60V757.94M201.20 769.60V757.97M204.40 769.60V758.00M207.60 769.60V758.03M210.80 769.60V758.05M214.00 769.60V758.07M217.20 769.60V758.09M220.40 769.60V758.10M223.60 769.60V758.12M226.80 769.60V758.14M230.00 769.60V758.15M233.20 769.60V758.17M236.40 769.60V758.19M239.60 769.60V758.20M242.80 769.60V758.22M246.00 769.60V758.24M249.20 769.60V758.25M252.40 769.60V758.27M255.60 769.60V758.28M258.80 769.60V758.29M262.00 769.60V758.31M265.20 769.60V758.32M268.40 769.60V758.33M271.60 769.60V758.35M274.80 769.60V758.36M278.00 769.60V758.37M281.20 769.60V758.38M284.40 769.60V758.39M287.60 769.60V758.40M290.80 769.60V758.41M294.00 769.60V758.42M297.20 769.60V758.42M300.40 769.60V758.43M303.60 769.60V758.43M306.80 769.60V758.44M310.00 769.60V758.44M313.20 769.60V758.45M316.40 769.60V758.45M319.60 769.60V758.45M322.80 769.60V758.45" stroke="#dc3a3a" stroke-width="1.7" fill="none"/>
<path d="M70.00 769.60V759.18M73.20 769.60V758.14M76.40 769.60V757.41M79.60 769.60V757.28M82.80 769.60V757.20M86.00 769.60V757.07M89.20 769.60V756.94M92.40 769.60V756.79M95.60 769.60V756.63M98.80 769.60V756.47M102.00 769.60V756.30M105.20 769.60V756.11M108.40 769.60V755.91M111.60 769.60V755.72M114.80 769.60V755.53M118.00 769.60V755.36M121.20 769.60V755.19M124.40 769.60V755.03M127.60 769.60V754.86M130.80 769.60V754.70M134.00 769.60V754.53M137.20 769.60V754.37M140.40 769.60V754.21M143.60 769.60V754.04M146.80 769.60V753.87M150.00 769.60V753.69M153.20 769.60V753.50M156.40 769.60V753.32M159.60 769.60V753.12M162.80 769.60V752.93" stroke="#111" stroke-width="1.45" fill="none"/>
<path d="M65.80 769.60H164.40" stroke="#111" stroke-width="1.8"/>
<path d="M164.40 769.60H323.50" stroke="#e52b2b" stroke-width="2"/>
<path d="M63.4 722.40H325.2" stroke="#1e6e1e" stroke-width="1.6"/>
<path d="M78.30 647.40H111.30V644.30H116.00V647.40H123.80V642.30H128.50V647.40H136.20V640.30H140.90V647.40H149.30V638.30H154.00V647.40H168.90" stroke="#e04848" stroke-width="1.2" fill="none"/>
<path d="M78.30 661.90H85.40V652.90H89.90V661.90H98.20V664.10H102.90V661.90H168.90" stroke="#3a3ae0" stroke-width="1.2" fill="none"/>
<rect x="284.20" y="635.30" width="5.70" height="19.40" fill="#f00"/>
<path d="M241.20 654.70V635.30H246.90V654.70M249.80 654.70V635.30H255.50V654.70M258.40 654.70V635.30H264.10V654.70M267.00 654.70V635.30H272.70V654.70M275.60 654.70V635.30H281.30V654.70M284.20 654.70V635.30H289.90V654.70" stroke="#808080" stroke-width="0.85" stroke-dasharray="2 1.3" fill="none"/>
<path d="M235.50 654.70H296.10" stroke="#e52222" stroke-width="1.6"/>
<rect x="241.20" y="658.00" width="5.70" height="19.60" fill="#00f"/>
<path d="M235.50 677.60H296.10" stroke="#2020d0" stroke-width="1.6"/>
<text x="318.30" y="704.00" text-anchor="end" font-size="14.7" fill="#111" stroke="#111">Case 6 (Δt<tspan font-size="8.5" dy="3">6</tspan><tspan dy="-3">=10 ms)</tspan></text>
<path d="M407.5 623.72H670.6V780.02" fill="none" stroke="#222" stroke-width="1.3"/>
<path d="M407.5 623.72V780.02" fill="none" stroke="#222" stroke-width="1.8"/>
<path d="M406.6 780.02H670.6" fill="none" stroke="#222" stroke-width="1.6"/>
<path d="M404.30 769.60H407.5M405.70 759.18H407.5M404.30 748.76H407.5M405.70 738.34H407.5M404.30 727.92H407.5M405.70 717.50H407.5M404.30 707.08H407.5M405.70 696.66H407.5M404.30 686.24H407.5M405.70 675.82H407.5M404.30 665.40H407.5M405.70 654.98H407.5M404.30 644.56H407.5M405.70 634.14H407.5M404.30 623.72H407.5M415.50 780.02V783.22M447.00 780.02V781.82M478.50 780.02V783.22M510.00 780.02V781.82M541.50 780.02V783.22M573.00 780.02V781.82M604.50 780.02V783.22M636.00 780.02V781.82M667.50 780.02V783.22" stroke="#222" stroke-width="1.1" fill="none"/>
<text transform="translate(402.20 774.10) scale(0.92 1)" text-anchor="end" font-size="13" fill="#222" stroke="#222">0</text>
<text transform="translate(402.20 753.26) scale(0.92 1)" text-anchor="end" font-size="13" fill="#222" stroke="#222">20</text>
<text transform="translate(402.20 732.42) scale(0.92 1)" text-anchor="end" font-size="13" fill="#222" stroke="#222">40</text>
<text transform="translate(402.20 711.58) scale(0.92 1)" text-anchor="end" font-size="13" fill="#222" stroke="#222">60</text>
<text transform="translate(402.20 690.74) scale(0.92 1)" text-anchor="end" font-size="13" fill="#222" stroke="#222">80</text>
<text transform="translate(402.20 669.90) scale(0.92 1)" text-anchor="end" font-size="13" fill="#222" stroke="#222">100</text>
<text transform="translate(402.20 649.06) scale(0.92 1)" text-anchor="end" font-size="13" fill="#222" stroke="#222">120</text>
<text transform="translate(402.20 628.22) scale(0.92 1)" text-anchor="end" font-size="13" fill="#222" stroke="#222">140</text>
<text transform="translate(415.50 794.92) scale(0.92 1)" text-anchor="middle" font-size="13" fill="#222" stroke="#222">0</text>
<text transform="translate(478.50 794.92) scale(0.92 1)" text-anchor="middle" font-size="13" fill="#222" stroke="#222">20</text>
<text transform="translate(541.50 794.92) scale(0.92 1)" text-anchor="middle" font-size="13" fill="#222" stroke="#222">40</text>
<text transform="translate(604.50 794.92) scale(0.92 1)" text-anchor="middle" font-size="13" fill="#222" stroke="#222">60</text>
<text transform="translate(667.50 794.92) scale(0.92 1)" text-anchor="middle" font-size="13" fill="#222" stroke="#222">80</text>
<text x="542.95" y="810.00" text-anchor="middle" font-size="16.2" fill="#111" stroke="#111">Number (#)</text>
<text transform="translate(370.20 704.55) rotate(-90)" text-anchor="middle" font-size="16.5" fill="#111" stroke="#111">Response Voltage (mV)</text>
<path d="M415.40 769.60V726.07M418.60 769.60V715.80M421.80 769.60V708.47M425.00 769.60V702.60M428.20 769.60V697.10M431.40 769.60V692.88M434.60 769.60V688.85M437.80 769.60V685.18M441.00 769.60V682.07M444.20 769.60V678.77M447.40 769.60V676.02M450.60 769.60V673.63M453.80 769.60V671.07M457.00 769.60V668.68M460.20 769.60V666.30M463.40 769.60V664.47M466.60 769.60V662.27M469.80 769.60V660.07M473.00 769.60V658.05M476.20 769.60V656.22M479.40 769.60V654.57M482.60 769.60V653.10M485.80 769.60V651.63M489.00 769.60V649.98M492.20 769.60V648.52M495.40 769.60V647.60M498.60 769.60V646.68M501.80 769.60V645.40M505.00 769.60V644.30M508.20 769.60V643.02M511.40 769.60V676.13M514.60 769.60V684.05M517.80 769.60V688.74M521.00 769.60V692.08M524.20 769.60V694.68M527.40 769.60V696.97M530.60 769.60V698.95M533.80 769.60V700.31M537.00 769.60V702.08M540.20 769.60V703.43M543.40 769.60V704.62M546.60 769.60V705.73M549.80 769.60V706.82M553.00 769.60V707.81M556.20 769.60V708.61M559.40 769.60V709.37M562.60 769.60V710.23M565.80 769.60V711.04M569.00 769.60V711.68M572.20 769.60V712.29M575.40 769.60V712.97M578.60 769.60V713.64M581.80 769.60V714.31M585.00 769.60V714.89M588.20 769.60V715.34M591.40 769.60V715.73M594.60 769.60V716.09M597.80 769.60V716.46M601.00 769.60V716.89M604.20 769.60V717.40M607.40 769.60V718.07M610.60 769.60V718.75M613.80 769.60V719.25M617.00 769.60V719.69M620.20 769.60V720.09M623.40 769.60V720.52M626.60 769.60V721.20M629.80 769.60V721.88M633.00 769.60V722.33M636.20 769.60V722.71M639.40 769.60V723.06M642.60 769.60V723.34M645.80 769.60V723.53M649.00 769.60V723.70M652.20 769.60V723.86M655.40 769.60V724.03M658.60 769.60V724.19M661.80 769.60V724.36M665.00 769.60V724.53M668.20 769.60V724.69" stroke="#151515" stroke-width="1.5" fill="none"/>
<path d="M415.40 769.60V734.48M418.60 769.60V726.36M421.80 769.60V722.19M425.00 769.60V716.46M428.20 769.60V712.81M431.40 769.60V708.85M434.60 769.60V705.62M437.80 769.60V702.70M441.00 769.60V699.37M444.20 769.60V696.97M447.40 769.60V694.16M450.60 769.60V691.55M453.80 769.60V689.57M457.00 769.60V687.49M460.20 769.60V685.51M463.40 769.60V683.32M466.60 769.60V681.45M469.80 769.60V679.47M473.00 769.60V678.29M476.20 769.60V677.28M479.40 769.60V676.21M482.60 769.60V675.18M485.80 769.60V674.12M489.00 769.60V672.97M492.20 769.60V671.65M495.40 769.60V670.12M498.60 769.60V668.37M501.80 769.60V666.42M505.00 769.60V664.32M508.20 769.60V662.07M511.40 769.60V696.87M514.60 769.60V703.64M517.80 769.60V707.71M521.00 769.60V710.83M524.20 769.60V713.33M527.40 769.60V715.31M530.60 769.60V717.08M533.80 769.60V718.85M537.00 769.60V720.42M540.20 769.60V721.67M543.40 769.60V722.44M546.60 769.60V723.05M549.80 769.60V723.58M553.00 769.60V724.07M556.20 769.60V724.59M559.40 769.60V725.16M562.60 769.60V725.76M565.80 769.60V726.34M569.00 769.60V726.83M572.20 769.60V727.19M575.40 769.60V727.45M578.60 769.60V727.66M581.80 769.60V727.84M585.00 769.60V728.00M588.20 769.60V728.14M591.40 769.60V728.28M594.60 769.60V728.42M597.80 769.60V728.58M601.00 769.60V728.75M604.20 769.60V728.96M607.40 769.60V729.22M610.60 769.60V729.52M613.80 769.60V729.84M617.00 769.60V730.15M620.20 769.60V730.42M623.40 769.60V730.64M626.60 769.60V730.82M629.80 769.60V731.00M633.00 769.60V731.20M636.20 769.60V731.46M639.40 769.60V731.89M642.60 769.60V732.48M645.80 769.60V733.13M649.00 769.60V733.70M652.20 769.60V734.07M655.40 769.60V734.29M658.60 769.60V734.49M661.80 769.60V734.65M665.00 769.60V734.76M668.20 769.60V734.80" stroke="#62eeee" stroke-width="2.1" fill="none"/>
<path d="M415.40 769.60V740.22M418.60 769.60V735.74M421.80 769.60V731.98M425.00 769.60V727.92M428.20 769.60V724.59M431.40 769.60V721.25M434.60 769.60V718.02M437.80 769.60V715.52M441.00 769.60V713.02M444.20 769.60V711.66M447.40 769.60V710.24M450.60 769.60V708.85M453.80 769.60V707.64M457.00 769.60V706.45M460.20 769.60V705.21M463.40 769.60V703.95M466.60 769.60V702.70M469.80 769.60V701.45M473.00 769.60V700.14M476.20 769.60V698.95M479.40 769.60V698.11M482.60 769.60V697.29M485.80 769.60V696.19M489.00 769.60V694.89M492.20 769.60V693.28M495.40 769.60V691.55M498.60 769.60V689.99M501.80 769.60V688.32M505.00 769.60V686.33M508.20 769.60V684.05M511.40 769.60V713.75M514.60 769.60V719.58M517.80 769.60V723.44M521.00 769.60V725.94M524.20 769.60V728.44M527.40 769.60V730.21M530.60 769.60V731.27M533.80 769.60V732.12M537.00 769.60V732.81M540.20 769.60V733.44M543.40 769.60V734.02M546.60 769.60V734.53M549.80 769.60V734.99M553.00 769.60V735.46M556.20 769.60V735.94M559.40 769.60V736.48M562.60 769.60V737.06M565.80 769.60V737.62M569.00 769.60V738.13M572.20 769.60V738.55M575.40 769.60V738.88M578.60 769.60V739.19M581.80 769.60V739.47M585.00 769.60V739.74M588.20 769.60V739.98M591.40 769.60V740.21M594.60 769.60V740.43M597.80 769.60V740.64M601.00 769.60V740.84M604.20 769.60V741.05M607.40 769.60V741.26M610.60 769.60V741.47M613.80 769.60V741.67M617.00 769.60V741.87M620.20 769.60V742.06M623.40 769.60V742.25M626.60 769.60V742.42M629.80 769.60V742.57M633.00 769.60V742.71M636.20 769.60V742.82M639.40 769.60V742.92M642.60 769.60V743.02M645.80 769.60V743.12M649.00 769.60V743.21M652.20 769.60V743.29M655.40 769.60V743.36M658.60 769.60V743.43M661.80 769.60V743.48M665.00 769.60V743.52M668.20 769.60V743.55" stroke="#ee4848" stroke-width="2.0" fill="none"/>
<path d="M415.40 769.60V746.36M418.60 769.60V744.70M421.80 769.60V743.03M425.00 769.60V741.15M428.20 769.60V740.11M431.40 769.60V738.44M434.60 769.60V736.36M437.80 769.60V735.74M441.00 769.60V735.02M444.20 769.60V734.28M447.40 769.60V733.56M450.60 769.60V732.82M453.80 769.60V731.97M457.00 769.60V731.06M460.20 769.60V730.11M463.40 769.60V729.06M466.60 769.60V727.95M469.80 769.60V726.98M473.00 769.60V726.21M476.20 769.60V725.52M479.40 769.60V724.82M482.60 769.60V724.14M485.80 769.60V723.54M489.00 769.60V723.03M492.20 769.60V722.57M495.40 769.60V722.15M498.60 769.60V721.77M501.80 769.60V721.42M505.00 769.60V721.11M508.20 769.60V720.83M511.40 769.60V739.49M514.60 769.60V741.15M517.80 769.60V742.72M521.00 769.60V743.27M524.20 769.60V743.65M527.40 769.60V744.11M530.60 769.60V744.57M533.80 769.60V745.00M537.00 769.60V745.40M540.20 769.60V745.74M543.40 769.60V746.02M546.60 769.60V746.29M549.80 769.60V746.53M553.00 769.60V746.76M556.20 769.60V746.98M559.40 769.60V747.18M562.60 769.60V747.37M565.80 769.60V747.56M569.00 769.60V747.74M572.20 769.60V747.93M575.40 769.60V748.11M578.60 769.60V748.28M581.80 769.60V748.45M585.00 769.60V748.62M588.20 769.60V748.78M591.40 769.60V748.93M594.60 769.60V749.08M597.80 769.60V749.23M601.00 769.60V749.36M604.20 769.60V749.49M607.40 769.60V749.61M610.60 769.60V749.73M613.80 769.60V749.84M617.00 769.60V749.95M620.20 769.60V750.05M623.40 769.60V750.15M626.60 769.60V750.25M629.80 769.60V750.34M633.00 769.60V750.44M636.20 769.60V750.53M639.40 769.60V750.62M642.60 769.60V750.71M645.80 769.60V750.80M649.00 769.60V750.89M652.20 769.60V750.97M655.40 769.60V751.06M658.60 769.60V751.14M661.80 769.60V751.21M665.00 769.60V751.29M668.20 769.60V751.37" stroke="#3838e6" stroke-width="2.0" fill="none"/>
<path d="M415.40 769.60V759.18M418.60 769.60V758.14M421.80 769.60V757.41M425.00 769.60V757.28M428.20 769.60V757.20M431.40 769.60V757.07M434.60 769.60V756.94M437.80 769.60V756.79M441.00 769.60V756.63M444.20 769.60V756.47M447.40 769.60V756.30M450.60 769.60V756.11M453.80 769.60V755.91M457.00 769.60V755.72M460.20 769.60V755.53M463.40 769.60V755.36M466.60 769.60V755.19M469.80 769.60V755.03M473.00 769.60V754.86M476.20 769.60V754.70M479.40 769.60V754.53M482.60 769.60V754.37M485.80 769.60V754.21M489.00 769.60V754.04M492.20 769.60V753.87M495.40 769.60V753.69M498.60 769.60V753.50M501.80 769.60V753.32M505.00 769.60V753.12M508.20 769.60V752.93M511.40 769.60V755.32M514.60 769.60V756.47M517.80 769.60V757.10M521.00 769.60V757.43M524.20 769.60V757.62M527.40 769.60V757.69M530.60 769.60V757.75M533.80 769.60V757.81M537.00 769.60V757.86M540.20 769.60V757.90M543.40 769.60V757.94M546.60 769.60V757.97M549.80 769.60V758.00M553.00 769.60V758.03M556.20 769.60V758.05M559.40 769.60V758.07M562.60 769.60V758.09M565.80 769.60V758.10M569.00 769.60V758.12M572.20 769.60V758.14M575.40 769.60V758.15M578.60 769.60V758.17M581.80 769.60V758.19M585.00 769.60V758.20M588.20 769.60V758.22M591.40 769.60V758.24M594.60 769.60V758.25M597.80 769.60V758.27M601.00 769.60V758.28M604.20 769.60V758.29M607.40 769.60V758.31M610.60 769.60V758.32M613.80 769.60V758.33M617.00 769.60V758.35M620.20 769.60V758.36M623.40 769.60V758.37M626.60 769.60V758.38M629.80 769.60V758.39M633.00 769.60V758.40M636.20 769.60V758.41M639.40 769.60V758.42M642.60 769.60V758.42M645.80 769.60V758.43M649.00 769.60V758.43M652.20 769.60V758.44M655.40 769.60V758.44M658.60 769.60V758.45M661.80 769.60V758.45M665.00 769.60V758.45M668.20 769.60V758.45" stroke="#963030" stroke-width="1.9" fill="none"/>
<path d="M412.50 769.60H669.20" stroke="#7a0f0f" stroke-width="1.9"/>
<path d="M408.5 722.19H670.0" stroke="#1e6e1e" stroke-width="1.6"/>
<text x="574.6" y="643.20" font-size="11.8" font-weight="bold" fill="#111" stroke="#111">Δt<tspan font-size="7" dy="3.5">2</tspan><tspan dy="-3.5">= 2 ms</tspan></text>
<text x="574.6" y="657.60" font-size="11.8" font-weight="bold" fill="#55e6e6" stroke="#55e6e6">Δt<tspan font-size="7" dy="3.5">3</tspan><tspan dy="-3.5">= 4 ms</tspan></text>
<text x="574.6" y="672.00" font-size="11.8" font-weight="bold" fill="#e84040" stroke="#e84040">Δt<tspan font-size="7" dy="3.5">4</tspan><tspan dy="-3.5">= 6 ms</tspan></text>
<text x="574.6" y="686.40" font-size="11.8" font-weight="bold" fill="#2222dd" stroke="#2222dd">Δt<tspan font-size="7" dy="3.5">5</tspan><tspan dy="-3.5">= 8 ms</tspan></text>
<text x="574.6" y="700.80" font-size="11.8" font-weight="bold" fill="#8b2020" stroke="#8b2020">Δt<tspan font-size="7" dy="3.5">6</tspan><tspan dy="-3.5">= 10 ms</tspan></text>
<path d="M657.1 715.8V640" stroke="#e52525" stroke-width="2"/>
<path d="M657.1 630.2L653.6 642L657.1 640.5L660.6 642Z" fill="#e52525"/>
<text transform="translate(644.9 673.5) rotate(-90)" text-anchor="middle" font-size="12.1" font-weight="bold" fill="#e52525" stroke="#e52525">Acquisition</text>
</svg></body></html>
